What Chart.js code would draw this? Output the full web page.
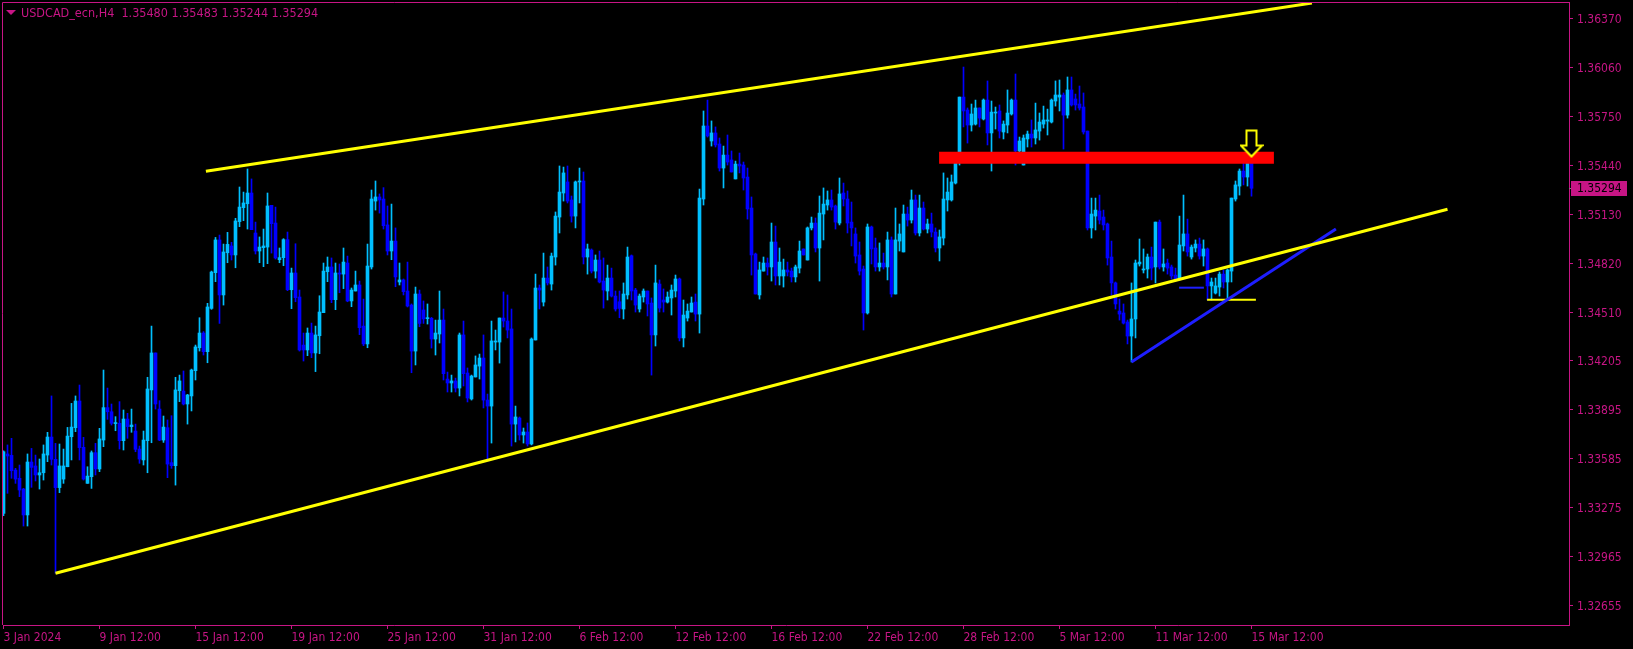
<!DOCTYPE html>
<html>
<head>
<meta charset="utf-8">
<script src="https://cdn.jsdelivr.net/npm/chart.js@4.4.1/dist/chart.umd.min.js"></script>
<style>
  html, body { margin: 0; padding: 0; background: #000; overflow: hidden; }
  canvas { display: block; }
</style>
</head>
<body>
<canvas id="chart" width="1633" height="649"></canvas>
<script>
// --- chart data (USDCAD H4, one entry per bar) ---
const symbolTitle = 'USDCAD_ecn,H4';

const tickBars = [0, 24, 48, 72, 96, 120, 144, 168, 192, 216, 240, 264, 288, 312];
const tickLabels = ['3 Jan 2024', '9 Jan 12:00', '15 Jan 12:00', '19 Jan 12:00', '25 Jan 12:00', '31 Jan 12:00',
    '6 Feb 12:00', '12 Feb 12:00', '16 Feb 12:00', '22 Feb 12:00', '28 Feb 12:00', '5 Mar 12:00', '11 Mar 12:00', '15 Mar 12:00'];
const priceTicks = [1.36370, 1.36060, 1.35750, 1.35440, 1.35130, 1.34820, 1.34510, 1.34205, 1.33895, 1.33585, 1.33275, 1.32965, 1.32655];

const opens = [
  1.33237,1.33613,1.33604,1.33511,1.33459,1.33391,1.33227,1.33562,1.33537,1.33480,
  1.33494,1.33606,1.33720,1.33579,1.33400,1.33454,1.33532,1.33722,1.33779,1.33948,
  1.33655,1.33427,1.33469,1.33621,1.33518,1.33701,1.33906,1.33880,1.33805,1.33807,
  1.33697,1.33834,1.33786,1.33758,1.33644,1.33575,1.33697,1.34018,1.34252,1.33897,
  1.33701,1.33779,1.33558,1.33539,1.34013,1.34011,1.33929,1.33980,1.34140,1.34285,
  1.34378,1.34260,1.34534,1.34760,1.34967,1.34619,1.34886,1.34929,1.34872,1.35083,
  1.35171,1.35196,1.35264,1.35011,1.34897,1.34918,1.34922,1.35186,1.35074,1.34842,
  1.34855,1.34969,1.34652,1.34758,1.34606,1.34302,1.34271,1.34378,1.34252,1.34361,
  1.34507,1.34766,1.34796,1.34589,1.34758,1.34751,1.34821,1.34581,1.34644,1.34682,
  1.34422,1.34309,1.34796,1.35213,1.35239,1.35226,1.35062,1.34897,1.34960,1.34701,
  1.34714,1.34644,1.34555,1.34264,1.34625,1.34524,1.34469,1.34471,1.34340,1.34372,
  1.34460,1.34087,1.34062,1.34075,1.34030,1.34366,1.34125,1.33961,1.34100,1.34169,
  1.34220,1.33954,1.33916,1.34321,1.34321,1.34473,1.34454,1.34404,1.33802,1.33840,
  1.33733,1.33752,1.33676,1.34334,1.34663,1.34574,1.34726,1.34688,1.34859,1.35112,
  1.35264,1.35334,1.35220,1.35118,1.35334,1.35340,1.34859,1.34903,1.34770,1.34840,
  1.34707,1.34644,1.34726,1.34612,1.34576,1.34530,1.34619,1.34867,1.34650,1.34530,
  1.34606,1.34644,1.34568,1.34366,1.34688,1.34587,1.34574,1.34600,1.34644,1.34720,
  1.34347,1.34473,1.34511,1.34574,1.34498,1.35226,1.35688,1.35593,1.35644,1.35574,
  1.35422,1.35504,1.35473,1.35353,1.35447,1.35441,1.35365,1.35169,1.34878,1.34619,
  1.34770,1.34821,1.34796,1.34954,1.34739,1.34739,1.34777,1.34770,1.34733,1.34789,
  1.34910,1.34840,1.35043,1.35074,1.34916,1.35131,1.35188,1.35220,1.35182,1.35074,
  1.35264,1.35226,1.35080,1.35005,1.34872,1.34783,1.34505,1.35049,1.34916,1.34796,
  1.34821,1.34796,1.34967,1.34625,1.34960,1.34891,1.35131,1.35093,1.35220,1.35011,
  1.35169,1.35036,1.35068,1.35017,1.34916,1.34979,1.35220,1.35220,1.35327,1.35473,
  1.35871,1.35789,1.35694,1.35700,1.35802,1.35732,1.35852,1.35644,1.35770,1.35783,
  1.35650,1.35694,1.35764,1.35852,1.35530,1.35441,1.35606,1.35637,1.35612,1.35656,
  1.35700,1.35719,1.35713,1.35846,1.35871,1.35884,1.35757,1.35916,1.35859,1.35827,
  1.35808,1.35656,1.35043,1.35118,1.35150,1.35112,1.35068,1.34859,1.34695,1.34517,
  1.34505,1.34448,1.34359,1.34467,1.34815,1.34777,1.34783,1.34859,1.34796,1.35080,
  1.34796,1.34821,1.34796,1.34745,1.34720,1.34929,1.35005,1.34859,1.34916,1.34941,
  1.34865,1.34910,1.34676,1.34631,1.34669,1.34751,1.34701,1.34770,1.35226,1.35308,
  1.35403,1.35365,1.35480
];
const highs = [
  1.33632,1.33670,1.33712,1.33522,1.33543,1.33395,1.33613,1.33648,1.33606,1.33581,
  1.33670,1.33750,1.33980,1.33680,1.33676,1.33644,1.33781,1.33933,1.33980,1.34049,
  1.33718,1.33532,1.33632,1.33680,1.33775,1.34144,1.34030,1.33929,1.33849,1.33944,
  1.33891,1.33870,1.33897,1.33802,1.33663,1.33758,1.34098,1.34422,1.34252,1.33950,
  1.33853,1.33828,1.33855,1.34098,1.34112,1.34138,1.33990,1.34150,1.34302,1.34475,
  1.34387,1.34566,1.34770,1.34983,1.34998,1.34941,1.35015,1.34952,1.35104,1.35302,
  1.35270,1.35416,1.35353,1.35080,1.34986,1.35036,1.35264,1.35186,1.35175,1.34916,
  1.34975,1.35017,1.34789,1.34943,1.34650,1.34378,1.34410,1.34441,1.34422,1.34614,
  1.34821,1.34859,1.34853,1.34821,1.34815,1.34916,1.34865,1.34663,1.34770,1.34707,
  1.34593,1.34941,1.35283,1.35340,1.35258,1.35298,1.35182,1.35194,1.35043,1.34821,
  1.34720,1.34827,1.34562,1.34669,1.34650,1.34581,1.34562,1.34477,1.34460,1.34644,
  1.34530,1.34131,1.34112,1.34093,1.34378,1.34454,1.34157,1.34112,1.34233,1.34245,
  1.34366,1.33992,1.34454,1.34397,1.34473,1.34638,1.34619,1.34530,1.33916,1.33847,
  1.33777,1.33809,1.34347,1.34751,1.34682,1.34884,1.34796,1.34884,1.35144,1.35435,
  1.35428,1.35435,1.35245,1.35340,1.35422,1.35397,1.34941,1.34910,1.34872,1.34897,
  1.34853,1.34808,1.34789,1.34644,1.34644,1.34695,1.34922,1.34872,1.34661,1.34625,
  1.34657,1.34644,1.34600,1.34808,1.34714,1.34657,1.34638,1.34682,1.34745,1.34726,
  1.34587,1.34562,1.34606,1.34625,1.35289,1.35783,1.35852,1.35720,1.35682,1.35612,
  1.35561,1.35631,1.35530,1.35466,1.35517,1.35460,1.35422,1.35239,1.34884,1.34827,
  1.34859,1.34853,1.35074,1.35055,1.34916,1.34846,1.34827,1.34789,1.34808,1.34960,
  1.34910,1.35049,1.35112,1.35106,1.35245,1.35296,1.35277,1.35283,1.35188,1.35359,
  1.35327,1.35277,1.35207,1.35043,1.34954,1.34802,1.35068,1.35055,1.34979,1.34948,
  1.34884,1.35017,1.34986,1.35169,1.35068,1.35188,1.35175,1.35283,1.35251,1.35251,
  1.35207,1.35099,1.35137,1.35043,1.35030,1.35391,1.35359,1.35378,1.35498,1.35871,
  1.36061,1.35802,1.35827,1.35852,1.35802,1.35859,1.35973,1.35846,1.35808,1.35821,
  1.35720,1.35916,1.35859,1.36017,1.35618,1.35631,1.35656,1.35726,1.35833,1.35770,
  1.35814,1.35795,1.35859,1.35973,1.35979,1.35897,1.35998,1.35998,1.35890,1.35941,
  1.35897,1.35656,1.35232,1.35232,1.35251,1.35156,1.35074,1.34960,1.34701,1.34593,
  1.34562,1.34460,1.34695,1.34840,1.34973,1.34910,1.34878,1.34922,1.35080,1.35093,
  1.34910,1.34846,1.34808,1.34789,1.35118,1.35251,1.35099,1.34935,1.34967,1.34979,
  1.34967,1.34916,1.34726,1.34726,1.34764,1.34777,1.34783,1.35232,1.35340,1.35416,
  1.35454,1.35492,1.35483
];
const lows = [
  1.33222,1.33364,1.33459,1.33427,1.33343,1.33157,1.33157,1.33402,1.33442,1.33391,
  1.33448,1.33564,1.33543,1.32858,1.33368,1.33427,1.33532,1.33575,1.33754,1.33575,
  1.33448,1.33427,1.33395,1.33480,1.33501,1.33659,1.33832,1.33796,1.33760,1.33644,
  1.33638,1.33712,1.33750,1.33627,1.33554,1.33543,1.33494,1.33684,1.33897,1.33697,
  1.33686,1.33463,1.33522,1.33416,1.33944,1.33923,1.33802,1.33885,1.34081,1.34264,
  1.34239,1.34190,1.34528,1.34703,1.34439,1.34555,1.34823,1.34840,1.34791,1.35051,
  1.35089,1.35036,1.35032,1.34878,1.34823,1.34798,1.34817,1.34884,1.34846,1.34823,
  1.34804,1.34646,1.34532,1.34576,1.34264,1.34201,1.34235,1.34222,1.34134,1.34247,
  1.34507,1.34703,1.34570,1.34526,1.34633,1.34659,1.34576,1.34545,1.34644,1.34368,
  1.34298,1.34285,1.34783,1.35156,1.35137,1.35036,1.34872,1.34842,1.34671,1.34682,
  1.34619,1.34543,1.34127,1.34176,1.34418,1.34439,1.34435,1.34283,1.34239,1.34315,
  1.34081,1.34005,1.34005,1.34005,1.33980,1.34043,1.33942,1.33954,1.34100,1.34087,
  1.33904,1.33581,1.33682,1.34271,1.34188,1.34416,1.34347,1.33663,1.33689,1.33701,
  1.33682,1.33663,1.33670,1.34334,1.34530,1.34549,1.34682,1.34650,1.34808,1.35011,
  1.35213,1.35201,1.35080,1.35043,1.35201,1.34815,1.34751,1.34758,1.34726,1.34695,
  1.34536,1.34587,1.34606,1.34517,1.34475,1.34467,1.34593,1.34587,1.34511,1.34511,
  1.34574,1.34486,1.34112,1.34296,1.34511,1.34511,1.34568,1.34492,1.34606,1.34328,
  1.34290,1.34454,1.34511,1.34454,1.34378,1.35188,1.35618,1.35561,1.35555,1.35403,
  1.35296,1.35441,1.35397,1.35353,1.35391,1.35283,1.35099,1.34745,1.34625,1.34593,
  1.34770,1.34745,1.34707,1.34682,1.34682,1.34669,1.34739,1.34701,1.34701,1.34758,
  1.34872,1.34840,1.35030,1.34891,1.34707,1.34967,1.35156,1.35156,1.35036,1.35062,
  1.35182,1.35011,1.34929,1.34821,1.34745,1.34397,1.34498,1.34815,1.34770,1.34770,
  1.34783,1.34714,1.34606,1.34625,1.34897,1.34891,1.35055,1.35074,1.34998,1.34992,
  1.35030,1.35011,1.34986,1.34891,1.34834,1.34935,1.35150,1.35213,1.35321,1.35441,
  1.35682,1.35580,1.35656,1.35694,1.35682,1.35726,1.35568,1.35403,1.35669,1.35612,
  1.35606,1.35644,1.35757,1.35441,1.35511,1.35441,1.35555,1.35555,1.35574,1.35599,
  1.35675,1.35631,1.35707,1.35814,1.35783,1.35542,1.35738,1.35814,1.35789,1.35789,
  1.35637,1.35030,1.34979,1.35030,1.35068,1.35030,1.34808,1.34619,1.34530,1.34460,
  1.34435,1.34309,1.34195,1.34347,1.34802,1.34758,1.34726,1.34714,1.34695,1.34783,
  1.34770,1.34751,1.34720,1.34707,1.34714,1.34897,1.34865,1.34846,1.34891,1.34846,
  1.34802,1.34587,1.34587,1.34625,1.34612,1.34663,1.34587,1.34701,1.35213,1.35251,
  1.35315,1.35308,1.35244
];
const closes = [
  1.33627,1.33600,1.33507,1.33454,1.33385,1.33227,1.33562,1.33528,1.33480,1.33494,
  1.33613,1.33720,1.33579,1.33400,1.33537,1.33537,1.33726,1.33783,1.33948,1.33653,
  1.33454,1.33473,1.33621,1.33518,1.33708,1.33906,1.33880,1.33807,1.33809,1.33697,
  1.33834,1.33786,1.33796,1.33642,1.33581,1.33701,1.34024,1.34252,1.33929,1.33701,
  1.33783,1.33549,1.33539,1.34018,1.34075,1.33929,1.33986,1.34144,1.34290,1.34378,
  1.34260,1.34543,1.34764,1.34967,1.34619,1.34891,1.34939,1.34872,1.35087,1.35175,
  1.35201,1.35264,1.35032,1.34897,1.34922,1.34929,1.35182,1.35070,1.34853,1.34855,
  1.34969,1.34652,1.34758,1.34602,1.34271,1.34271,1.34378,1.34252,1.34366,1.34511,
  1.34770,1.34796,1.34589,1.34758,1.34751,1.34827,1.34581,1.34650,1.34682,1.34412,
  1.34309,1.34802,1.35226,1.35239,1.35220,1.35057,1.34897,1.34960,1.34733,1.34714,
  1.34640,1.34549,1.34264,1.34625,1.34439,1.34467,1.34473,1.34340,1.34378,1.34460,
  1.34121,1.34062,1.34075,1.34030,1.34366,1.34121,1.33967,1.34106,1.34176,1.34220,
  1.33954,1.33916,1.34328,1.34328,1.34473,1.34454,1.34397,1.33802,1.33847,1.33733,
  1.33752,1.33676,1.34340,1.34663,1.34650,1.34726,1.34695,1.34865,1.35118,1.35270,
  1.35391,1.35213,1.35118,1.35334,1.35340,1.34859,1.34910,1.34770,1.34840,1.34701,
  1.34650,1.34726,1.34612,1.34530,1.34534,1.34625,1.34859,1.34644,1.34555,1.34612,
  1.34644,1.34562,1.34366,1.34695,1.34536,1.34574,1.34606,1.34650,1.34720,1.34347,
  1.34492,1.34517,1.34568,1.34498,1.35232,1.35688,1.35625,1.35644,1.35568,1.35422,
  1.35504,1.35460,1.35397,1.35447,1.35435,1.35359,1.35163,1.34872,1.34625,1.34777,
  1.34821,1.34796,1.34954,1.34739,1.34827,1.34777,1.34764,1.34733,1.34796,1.34897,
  1.34872,1.35043,1.35074,1.34916,1.35137,1.35194,1.35220,1.35175,1.35080,1.35258,
  1.35226,1.35074,1.35043,1.34865,1.34770,1.34505,1.35049,1.34910,1.34796,1.34821,
  1.34796,1.34967,1.34625,1.34967,1.35005,1.35131,1.35093,1.35220,1.35011,1.35169,
  1.35036,1.35068,1.35017,1.34916,1.34986,1.35226,1.35270,1.35334,1.35479,1.35871,
  1.35783,1.35694,1.35764,1.35802,1.35738,1.35852,1.35644,1.35776,1.35776,1.35656,
  1.35700,1.35770,1.35852,1.35530,1.35593,1.35612,1.35637,1.35612,1.35663,1.35713,
  1.35726,1.35726,1.35852,1.35884,1.35884,1.35757,1.35916,1.35821,1.35821,1.35802,
  1.35650,1.35043,1.35131,1.35156,1.35093,1.35062,1.34853,1.34695,1.34562,1.34498,
  1.34441,1.34359,1.34467,1.34821,1.34827,1.34783,1.34859,1.34789,1.35080,1.34796,
  1.34815,1.34789,1.34739,1.34720,1.34935,1.35005,1.34891,1.34922,1.34941,1.34865,
  1.34910,1.34676,1.34701,1.34676,1.34751,1.34701,1.34777,1.35232,1.35315,1.35403,
  1.35365,1.35479,1.35294
];

// drawn objects: trend lines, resistance zone, markers
const upperChannel = [{ x: 50.6, y: 1.35401 }, { x: 327.1, y: 1.36466 }];
const lowerChannel = [{ x: 13, y: 1.32858 }, { x: 361.0, y: 1.35161 }];
const blueTrend = [{ x: 282, y: 1.34195 }, { x: 333.1, y: 1.35036 }];
const resistanceZone = [{ x: 233.9, y: 1.35487 }, { x: 317.6, y: 1.35487 }];
const blueLevel = [{ x: 293.9, y: 1.34665 }, { x: 300.1, y: 1.34665 }];
const yellowLevel = [{ x: 300.9, y: 1.34589 }, { x: 313.1, y: 1.34589 }];
const signalArrow = [{ x: 312, y: 1.35577 }];

const MAGENTA = '#C71585';
const BULL = '#00BFFF';
const BEAR = '#0000FF';
const FONT = "'DejaVu Sans Condensed', 'Liberation Sans Narrow', 'DejaVu Sans', sans-serif";

Chart.defaults.font.family = FONT;
Chart.defaults.font.size = 12;

const candleColors = closes.map((c, i) => (c >= opens[i] ? BULL : BEAR));
const wickData = highs.map((h, i) => ({ x: i, y: [lows[i], h] }));
const bodyData = opens.map((o, i) => ({ x: i, y: [Math.min(o, closes[i]), Math.max(o, closes[i])] }));

// hollow yellow "sell" arrow used as a point style
function makeArrow() {
    const c = document.createElement('canvas');
    c.width = 24; c.height = 29;
    const g = c.getContext('2d');
    g.beginPath();
    g.moveTo(7, 1.5); g.lineTo(17, 1.5); g.lineTo(17, 16.5); g.lineTo(22.5, 16.5);
    g.lineTo(12, 27.5); g.lineTo(1.5, 16.5); g.lineTo(7, 16.5); g.closePath();
    g.fillStyle = '#000'; g.fill();
    g.strokeStyle = '#FFFF00'; g.lineWidth = 2; g.stroke();
    return c;
}

function lineSet(data, color, width, order) {
    return {
        type: 'line', data, borderColor: color, borderWidth: width, pointRadius: 0,
        fill: false, tension: 0, borderCapStyle: 'butt', order
    };
}

// the terminal lays its plot out edge to edge: drop the label overhang padding
function noOverhang(s) {
    s.paddingTop = 0; s.paddingBottom = 0; s.paddingLeft = 0; s.paddingRight = 0;
}

// frame, header text and current price box
const terminalDecor = {
    id: 'terminalDecor',
    beforeDraw(chart) {
        const ctx = chart.ctx;
        ctx.save();
        ctx.fillStyle = '#000';
        ctx.fillRect(0, 0, chart.width, chart.height);
        ctx.restore();
    },
    afterDraw(chart) {
        const { ctx, chartArea, scales } = chart;
        ctx.save();
        ctx.strokeStyle = MAGENTA;
        ctx.lineWidth = 1;
        ctx.beginPath();
        ctx.moveTo(chartArea.left - 0.5, chartArea.bottom); ctx.lineTo(chartArea.left - 0.5, chartArea.top + 0.5);
        ctx.lineTo(chartArea.right + 0.5, chartArea.top + 0.5);
        ctx.stroke();

        // header
        ctx.fillStyle = MAGENTA;
        ctx.beginPath();
        ctx.moveTo(6, 10); ctx.lineTo(16, 10); ctx.lineTo(11, 15); ctx.closePath();
        ctx.fill();
        const n = closes.length - 1;
        const f = v => v.toFixed(5);
        ctx.font = '12.5px ' + FONT;
        ctx.textBaseline = 'alphabetic';
        ctx.fillText(symbolTitle + '  ' + f(opens[n]) + ' ' + f(highs[n]) + ' ' + f(lows[n]) + ' ' + f(closes[n]), 21, 17);

        // last price label
        const y = Math.round(scales.y.getPixelForValue(closes[n]));
        ctx.fillStyle = '#808080';
        ctx.fillRect(chartArea.right, y, 3, 1);
        ctx.fillStyle = MAGENTA;
        ctx.fillRect(chartArea.right + 2, y - 7, 56, 15);
        ctx.fillStyle = '#000';
        ctx.font = '12px ' + FONT;
        ctx.textBaseline = 'middle';
        ctx.fillText(f(closes[n]), chartArea.right + 8, y + 1);
        ctx.restore();
    }
};

new Chart(document.getElementById('chart'), {
    type: 'bar',
    data: {
        datasets: [
            { type: 'scatter', data: signalArrow, pointStyle: makeArrow(), pointRadius: 12, order: 0 },
            lineSet(upperChannel, '#FFFF00', 3, 1),
            lineSet(lowerChannel, '#FFFF00', 3, 1),
            lineSet(blueTrend, '#1E1EFF', 3, 1),
            lineSet(blueLevel, '#1E1EFF', 2, 1),
            lineSet(yellowLevel, '#FFFF00', 2, 1),
            lineSet(resistanceZone, '#FF0000', 12, 2),
            { type: 'bar', data: bodyData, backgroundColor: candleColors, barThickness: 3, grouped: false, minBarLength: 1, order: 3 },
            { type: 'bar', data: wickData, backgroundColor: candleColors, barThickness: 1, grouped: false, order: 4 }
        ]
    },
    plugins: [terminalDecor],
    options: {
        responsive: false,
        animation: false,
        events: [],
        devicePixelRatio: 1,
        layout: { autoPadding: false, padding: { left: 3, top: 2, right: 0, bottom: 0 } },
        plugins: { legend: { display: false }, tooltip: { enabled: false } },
        scales: {
            x: {
                type: 'linear', min: -0.125, max: 391.375, offset: false,
                grid: { drawOnChartArea: false, offset: false, tickLength: 4, color: MAGENTA },
                border: { color: MAGENTA },
                afterBuildTicks: s => { s.ticks = tickBars.map(v => ({ value: v })); },
                ticks: {
                    autoSkip: false, maxRotation: 0, minRotation: 0, align: 'start', padding: 2, color: MAGENTA,
                    callback: v => tickLabels[tickBars.indexOf(v)]
                },
                afterFit: s => { s.height = 24; noOverhang(s); }
            },
            y: {
                type: 'linear', position: 'right', min: 1.325308, max: 1.364725,
                grid: { drawOnChartArea: false, tickLength: 4, color: MAGENTA },
                border: { color: MAGENTA },
                afterBuildTicks: s => { s.ticks = priceTicks.map(v => ({ value: v })); },
                ticks: { padding: 4, labelOffset: 1.5, color: MAGENTA, callback: v => v.toFixed(5) },
                afterFit: s => { s.width = 64; noOverhang(s); }
            }
        }
    }
});
</script>
</body>
</html>
